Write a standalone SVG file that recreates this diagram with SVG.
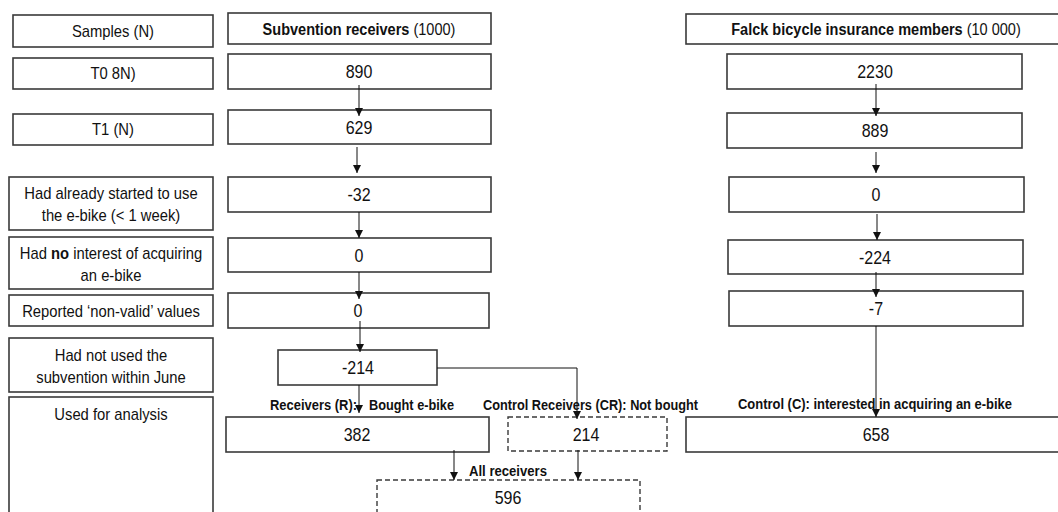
<svg xmlns="http://www.w3.org/2000/svg" width="1058" height="512" viewBox="0 0 1058 512">
<style>
.b{fill:#fff;stroke:#3a3a3a;stroke-width:1.6}
.d{fill:#fff;stroke:#3a3a3a;stroke-width:1.4;stroke-dasharray:5,3}
text{font-family:"Liberation Sans",Arial,sans-serif;fill:#111}
.t,.n,.h{text-anchor:middle;transform-box:fill-box;transform-origin:center}
.t{font-size:17px;transform:scaleX(0.87)}
.n{font-size:18px;transform:scaleX(0.89)}
.h{font-size:16.5px;transform:scaleX(0.88)}
.l{font-size:14px;font-weight:bold}
.c{fill:none;stroke:#111;stroke-width:1}
</style>
<defs>
<marker id="m" markerUnits="userSpaceOnUse" markerWidth="8" markerHeight="9" refX="8" refY="4" orient="auto" viewBox="0 0 8 8">
<path d="M0,0 L8,4 L0,8 Z" fill="#111"/>
</marker>
</defs>
<rect width="1058" height="512" fill="#fff"/>

<g id="left">
<g id="l-samples"><rect class="b" x="13" y="15" width="200" height="32"/><text class="t" x="113" y="37">Samples (N)</text></g>
<g id="l-t0"><rect class="b" x="13" y="58" width="200" height="31"/><text class="t" x="113" y="79">T0 8N)</text></g>
<g id="l-t1"><rect class="b" x="13" y="114" width="200" height="31"/><text class="t" x="113" y="135">T1 (N)</text></g>
<g id="l-started"><rect class="b" x="9" y="177" width="204" height="53"/><text class="t" x="111" y="199">Had already started to use</text><text class="t" x="111" y="221">the e-bike (&lt; 1 week)</text></g>
<g id="l-nointerest"><rect class="b" x="9" y="237" width="204" height="52"/><text class="t" x="111" y="259">Had <tspan font-weight="bold">no</tspan> interest of acquiring</text><text class="t" x="111" y="281">an e-bike</text></g>
<g id="l-nonvalid"><rect class="b" x="9" y="295" width="204" height="31"/><text class="t" x="111" y="317">Reported ‘non-valid’ values</text></g>
<g id="l-notused"><rect class="b" x="9" y="338" width="204" height="54"/><text class="t" x="111" y="361">Had not used the</text><text class="t" x="111" y="383">subvention within June</text></g>
<g id="l-analysis"><rect class="b" x="9" y="397" width="204" height="130"/><text class="t" x="111" y="420">Used for analysis</text></g>
</g>

<g id="middle">
<g id="m-head"><rect class="b" x="228" y="13" width="263" height="31"/><text class="h" x="359" y="35"><tspan font-weight="bold">Subvention receivers</tspan> (1000)</text></g>
<g id="m-890"><rect class="b" x="228" y="54" width="263" height="35"/><text class="n" x="359" y="78">890</text></g>
<g id="m-629"><rect class="b" x="228" y="110" width="263" height="34"/><text class="n" x="359" y="134">629</text></g>
<g id="m-32"><rect class="b" x="228" y="177" width="263" height="35"/><text class="n" x="359" y="201">-32</text></g>
<g id="m-0a"><rect class="b" x="228" y="238" width="263" height="34"/><text class="n" x="359" y="262">0</text></g>
<g id="m-0b"><rect class="b" x="228" y="293" width="261" height="35"/><text class="n" x="358" y="317">0</text></g>
<g id="m-214"><rect class="b" x="278" y="350" width="159" height="35"/><text class="n" x="358" y="374">-214</text></g>
<g id="m-382"><rect class="b" x="226" y="417" width="263" height="35"/><text class="n" x="357" y="441">382</text></g>
<g id="m-cr"><rect class="d" x="508" y="417" width="159" height="34"/><text class="n" x="586" y="441">214</text></g>
<g id="m-all"><rect class="d" x="377" y="480" width="263" height="50"/><text class="n" x="508" y="504">596</text></g>
</g>

<g id="right">
<g id="r-head"><rect class="b" x="686" y="14" width="380" height="30"/><text class="h" x="876" y="35"><tspan font-weight="bold">Falck bicycle insurance members</tspan> (10 000)</text></g>
<g id="r-2230"><rect class="b" x="727" y="54" width="295" height="35"/><text class="n" x="875" y="78">2230</text></g>
<g id="r-889"><rect class="b" x="727" y="113" width="295" height="35"/><text class="n" x="875" y="137">889</text></g>
<g id="r-0"><rect class="b" x="729" y="177" width="295" height="35"/><text class="n" x="876" y="201">0</text></g>
<g id="r-224"><rect class="b" x="728" y="240" width="295" height="34"/><text class="n" x="875" y="264">-224</text></g>
<g id="r-7"><rect class="b" x="729" y="291" width="294" height="35"/><text class="n" x="876" y="315">-7</text></g>
<g id="r-658"><rect class="b" x="686" y="417" width="380" height="35"/><text class="n" x="876" y="441">658</text></g>
</g>

<g id="labels">
<text class="l" x="357" y="410" text-anchor="end" textLength="87" lengthAdjust="spacingAndGlyphs">Receivers (R):</text>
<text class="l" x="369" y="410" textLength="85" lengthAdjust="spacingAndGlyphs">Bought e-bike</text>
<text class="l" x="483" y="410" textLength="215" lengthAdjust="spacingAndGlyphs">Control Receivers (CR): Not bought</text>
<text class="l" x="738" y="409" textLength="274" lengthAdjust="spacingAndGlyphs">Control (C): interested  in acquiring an e-bike</text>
<text class="l" x="469" y="476" textLength="78" lengthAdjust="spacingAndGlyphs">All receivers</text>
</g>

<g id="connectors">
<path class="c" d="M359,85 V116" marker-end="url(#m)"/>
<path class="c" d="M357,147 V173" marker-end="url(#m)"/>
<path class="c" d="M359,212 V238" marker-end="url(#m)"/>
<path class="c" d="M359,272 V299" marker-end="url(#m)"/>
<path class="c" d="M360,321 V352" marker-end="url(#m)"/>
<path class="c" d="M359,385 V413" marker-end="url(#m)"/>
<path class="c" d="M437,368 H577 V419" marker-end="url(#m)"/>
<path class="c" d="M454,450 V480" marker-end="url(#m)"/>
<path class="c" d="M578,450 V480" marker-end="url(#m)"/>
<path class="c" d="M876,84 V116" marker-end="url(#m)"/>
<path class="c" d="M876,152 V173" marker-end="url(#m)"/>
<path class="c" d="M877,214 V240" marker-end="url(#m)"/>
<path class="c" d="M876,272 V297" marker-end="url(#m)"/>
<path class="c" d="M876,326 V417" marker-end="url(#m)"/>
</g>
</svg>
